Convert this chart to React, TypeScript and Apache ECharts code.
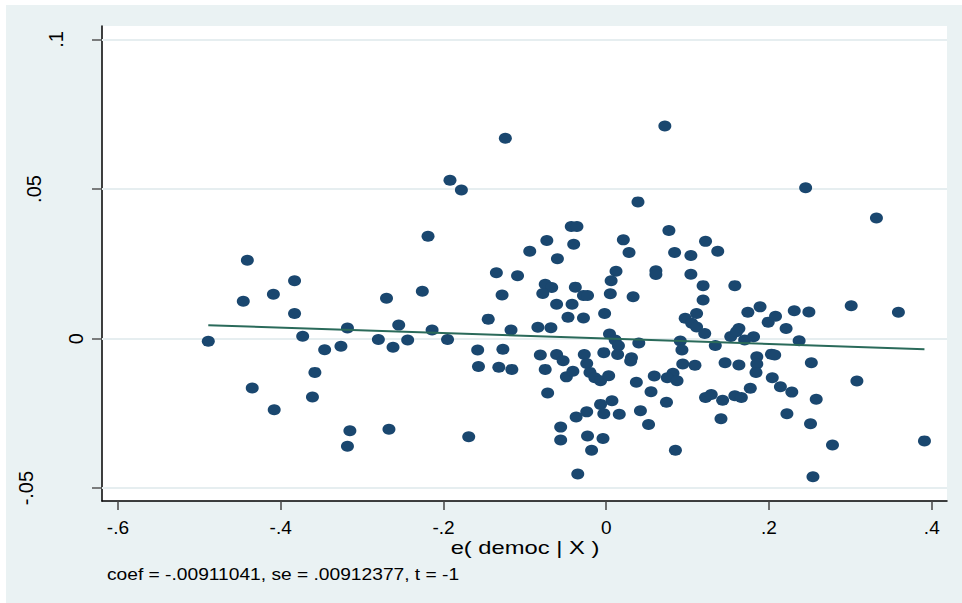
import React, { useEffect, useRef } from "react";
import * as echarts from "echarts";

// e( democ | X ) residuals
const residX = [
  -0.489, -0.441, -0.446, -0.409, -0.383, -0.383, -0.373, -0.346, -0.326, -0.318, -0.28, -0.262, -0.27, -0.255,
  -0.435, -0.408, -0.358, -0.361, -0.315, -0.318, -0.267,
  -0.124, -0.192, -0.178, -0.219, -0.226, -0.244, -0.214, -0.195, -0.135, -0.109, -0.128, -0.145, -0.117, -0.094,
  -0.073, -0.06, -0.075, -0.067, -0.078, -0.061, -0.084, -0.068, -0.158, -0.127, -0.157, -0.132, -0.116, -0.081,
  -0.061, -0.075, -0.072, -0.169, -0.056, -0.056, -0.053,
  0.072, 0.039, -0.043, -0.036, -0.04, 0.021, 0.028, 0.077, 0.084, 0.104, 0.061, 0.061, 0.104, 0.012, 0.006, 0.005,
  0.033, -0.038, -0.028, -0.023, -0.042, -0.047, -0.028, -0.002, 0.004, 0.011, 0.015, 0.04, -0.027, -0.024, -0.003,
  0.014, 0.031, 0.03, -0.049, -0.041, -0.02, -0.014, -0.007, 0.003, 0.037, 0.059, 0.055, 0.074, 0.007, -0.007,
  -0.003, 0.016, -0.024, -0.037, 0.042, 0.052, -0.023, -0.004, -0.018, 0.085, -0.035, 0.091, 0.093, 0.094, 0.109,
  0.082, 0.075, 0.087, 0.097, 0.105, 0.111, 0.111, 0.119, 0.119,
  0.245, 0.122, 0.137, 0.158, 0.121, 0.134, 0.153, 0.163, 0.16, 0.17, 0.181, 0.174, 0.189, 0.199, 0.208, 0.221,
  0.231, 0.249, 0.237, 0.146, 0.163, 0.185, 0.185, 0.184, 0.203, 0.207, 0.204, 0.214, 0.228, 0.252, 0.258, 0.122,
  0.129, 0.143, 0.158, 0.166, 0.177, 0.141, 0.222, 0.251, 0.254,
  0.332, 0.301, 0.359, 0.308, 0.278, 0.391,
];

// e( y | X ) residuals
const residY = [
  -0.0009, 0.0262, 0.0125, 0.0148, 0.0193, 0.0084, 0.0008, -0.0037, -0.0026, 0.0035, -0.0003, -0.0029, 0.0135, 0.0045,
  -0.0165, -0.0238, -0.0113, -0.0195, -0.0308, -0.036, -0.0303,
  0.067, 0.0529, 0.0497, 0.0342, 0.0158, -0.0005, 0.0029, -0.0003, 0.022, 0.021, 0.0146, 0.0065, 0.0029, 0.0292,
  0.0328, 0.0267, 0.0182, 0.0171, 0.0151, 0.0115, 0.0038, 0.0036, -0.0038, -0.0036, -0.0093, -0.0096, -0.0103, -0.0055,
  -0.0053, -0.0103, -0.0182, -0.0328, -0.0296, -0.0339, -0.0074,
  0.0711, 0.0457, 0.0375, 0.0375, 0.0315, 0.033, 0.0288, 0.0361, 0.0288, 0.0278, 0.0227, 0.0214, 0.0215, 0.0225, 0.0193, 0.015,
  0.014, 0.0172, 0.0144, 0.0144, 0.0115, 0.0071, 0.0069, 0.0084, 0.0015, -0.0005, -0.0024, -0.0015, -0.0053, -0.0083, -0.0047,
  -0.0053, -0.0064, -0.0075, -0.0128, -0.0109, -0.0113, -0.0131, -0.0141, -0.0124, -0.0146, -0.0125, -0.0178, -0.0213, -0.0208, -0.022,
  -0.0251, -0.0253, -0.0245, -0.0262, -0.0241, -0.0287, -0.0326, -0.0334, -0.0373, -0.0373, -0.0453, -0.0008, -0.0038, -0.0085, -0.0089,
  -0.0116, -0.0131, -0.0141, 0.0068, 0.0051, 0.0084, 0.0039, 0.0177, 0.0129,
  0.0504, 0.0325, 0.0292, 0.0177, 0.0017, -0.0023, 0.0007, 0.0034, 0.0023, -0.0005, 0.0006, 0.0088, 0.0106, 0.0055, 0.0075, 0.0034,
  0.0093, 0.0089, -0.0007, -0.0081, -0.0088, -0.0061, -0.0085, -0.0113, -0.0052, -0.0055, -0.0131, -0.0161, -0.0179, -0.0081, -0.0203, -0.0197,
  -0.0187, -0.0206, -0.0191, -0.0197, -0.0166, -0.0268, -0.0251, -0.0285, -0.0462,
  0.0403, 0.011, 0.0088, -0.0142, -0.0356, -0.0342,
];

const coef = -0.00911041;
const xTicks = [-0.6, -0.4, -0.2, 0, 0.2, 0.4];
const yTicks = [-0.05, 0, 0.05, 0.1];
const xTitle = "e( democ | X )";
const noteText = "coef = -.00911041, se = .00912377, t = -1";

const FONT = '"Liberation Sans", Arial, sans-serif';

function fmt(v: number): string {
  if (Math.abs(v) < 1e-12) return "0";
  const s = String(Math.abs(Number(v.toFixed(4)))).replace(/^0/, "");
  return (v < 0 ? "-" : "") + s;
}

export default function App() {
  const ref = useRef<HTMLDivElement>(null);
  useEffect(() => {
    if (!ref.current) return;
    const chart = echarts.init(ref.current, undefined, { renderer: "svg" });
    const points = residX.map((x, i) => [x, residY[i]]);
    const minX = Math.min(...residX);
    const maxX = Math.max(...residX);
    const fitLine = [
      [minX, coef * minX],
      [maxX, coef * maxX],
    ];
    const yRich = (pad: number) => ({
      fontSize: 20,
      fontFamily: FONT,
      color: "#000",
      padding: [0, 0, pad, 0],
    });
    chart.setOption({
      animation: false,
      backgroundColor: "#eaf2f3",
      grid: {
        left: 102,
        top: 26,
        right: 15,
        bottom: 102,
        show: true,
        backgroundColor: "#ffffff",
        borderWidth: 0,
      },
      xAxis: {
        type: "value",
        min: -0.6196,
        max: 0.4187,
        splitLine: { show: false },
        axisLine: { show: true, onZero: false, lineStyle: { color: "#000", width: 1.5 } },
        axisTick: { show: true, customValues: xTicks, length: 9, lineStyle: { color: "#444", width: 1.5 } },
        axisLabel: {
          customValues: xTicks,
          formatter: (v: number) => fmt(v),
          fontSize: 19,
          fontFamily: FONT,
          color: "#000",
          margin: 17,
        },
      },
      yAxis: {
        type: "value",
        min: -0.0543,
        max: 0.1045,
        splitLine: { show: false },
        axisLine: { show: true, onZero: false, lineStyle: { color: "#000", width: 1.5 } },
        axisTick: { show: true, customValues: yTicks, length: 10, lineStyle: { color: "#555", width: 1.5 } },
        axisLabel: {
          customValues: yTicks,
          rotate: 90,
          margin: 16,
          fontSize: 20,
          fontFamily: FONT,
          color: "#000",
          formatter: (v: number) => {
            const t = fmt(v);
            const key = t === "0" ? "a" : t === ".1" ? "b" : t === ".05" ? "c" : "d";
            return `{${key}|${t}}`;
          },
          rich: { a: yRich(0), b: yRich(20), c: yRich(42), d: yRich(50) },
        },
      },
      graphic: [
        { type: "rect", shape: { x: 0, y: 0, width: 962, height: 5 }, style: { fill: "#ffffff" }, silent: true },
        { type: "rect", shape: { x: 0, y: 0, width: 6, height: 603 }, style: { fill: "#ffffff" }, silent: true },
        {
          type: "text",
          x: 525,
          y: 548,
          scaleX: 1.25,
          style: {
            text: xTitle,
            x: 0,
            y: 0,
            fontSize: 19,
            fontFamily: FONT,
            fill: "#000",
            align: "center",
            verticalAlign: "middle",
          },
        },
        {
          type: "text",
          x: 107,
          y: 575,
          scaleX: 1.2,
          style: {
            text: noteText,
            x: 0,
            y: 0,
            fontSize: 16,
            fontFamily: FONT,
            fill: "#000",
            align: "left",
            verticalAlign: "middle",
          },
        },
      ],
      series: [
        {
          type: "scatter",
          data: points,
          symbol: "circle",
          symbolSize: [13, 11],
          itemStyle: { color: "#1a476f", opacity: 1 },
          z: 2,
          markLine: {
            silent: true,
            symbol: ["none", "none"],
            z: 1,
            label: { show: false },
            lineStyle: { color: "#e6eef0", width: 2, type: "solid" },
            data: yTicks.map((v) => ({ yAxis: v })),
          },
        },
        {
          type: "line",
          data: fitLine,
          showSymbol: false,
          symbol: "none",
          lineStyle: { color: "#2a6a5a", width: 2 },
          z: 3,
        },
      ],
    });
    return () => chart.dispose();
  }, []);
  return (
    <div
      ref={ref}
      style={{ position: "fixed", left: 0, top: 0, width: 962, height: 603 }}
    />
  );
}
